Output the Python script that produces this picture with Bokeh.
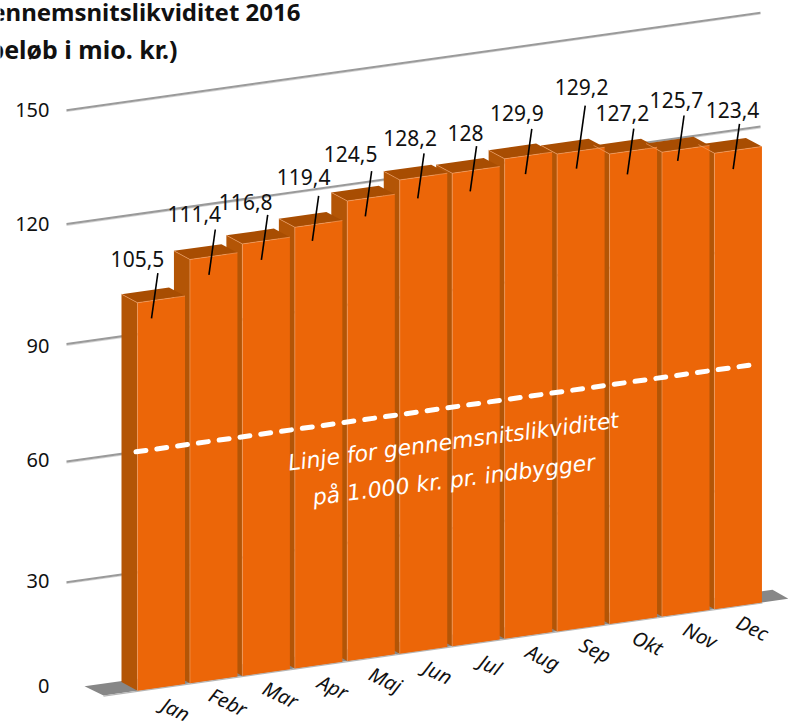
from bokeh.plotting import figure
from bokeh.embed import file_html
from bokeh.resources import INLINE
from bokeh.core.properties import value

# ---- data ----
months = ["Jan", "Febr", "Mar", "Apr", "Maj", "Jun", "Jul", "Aug", "Sep", "Okt", "Nov", "Dec"]
bar_heights = [105.0, 114.7, 116.9, 119.4, 124.5, 128.2, 128.0, 129.9, 129.2, 127.2, 125.7, 123.4]
bar_labels = ["105,5", "111,4", "116,8", "119,4", "124,5", "128,2", "128", "129,9", "129,2", "127,2", "125,7", "123,4"]
axis_values = [0, 30, 60, 90, 120, 150]
average_level = 64.7

# ---- layout ----
BAR_X0, BAR_PITCH, BAR_W = 137.0, 52.45, 47.5
BASE_Y, SLOPE, PX_PER_UNIT = 690.2, 0.1413, 3.695
DEPTH_X, DEPTH_Y = -16.0, -8.6
GRID_X0, GRID_X1 = 66.0, 760.0
grid_y_at_x0 = [688.0, 581.7, 461.0, 343.5, 223.5, 109.7]
label_y = [685.5, 580, 459.5, 345, 223, 109]
leader_dx = [14, 19, 19, 17.5, 18, 18, 18, 20.8, 19.3, 17.8, 15.7, 18.7]
leader_drop = [17.7, 18, 18.7, 16, 18, 21, 20.7, 18.3, 17.4, 22.9, 11, 18.6]
leader_rise = [45.4, 45.3, 45, 45, 45.4, 45, 45.4, 45.4, 63, 45.7, 45.4, 45.3]
label_dx = [-20.4, -21, -22, -15, -21, -14, -11, -15, -3.6, -11.4, -7.6, -7]
label_dy = [-14, -15.7, -12.6, -18.6, -17, -15, -12.6, -15.6, -18.3, -15.3, -15.3, -14]

ORANGE, SIDE, TOP, EDGE = "#ec6608", "#b35506", "#a84d02", "#f2a066"
FONT = "Noto Sans"


def base_y(x):
    return BASE_Y - (x - BAR_X0) * SLOPE


def level_y(x, v):
    return base_y(x) - v * PX_PER_UNIT


p = figure(width=788, height=722, x_range=(0, 788), y_range=(722, 0),
           output_backend="svg", toolbar_location=None, min_border=0,
           outline_line_color=None, background_fill_color="white",
           border_fill_color="white",
           styles={"position": "absolute", "left": "0px", "top": "0px"})
p.axis.visible = False
p.grid.visible = False

# grid lines (behind everything)
for v, y0 in zip(axis_values[1:], grid_y_at_x0[1:]):
    y1 = y0 - (GRID_X1 - GRID_X0) * 0.1405
    p.line([GRID_X0, GRID_X1], [y0 + 1.3, y1 + 1.3], line_color="#d4d4d4", line_width=1.2)
    p.line([GRID_X0, GRID_X1], [y0, y1], line_color="#9a9a9a", line_width=2)

# floor
fl_x = [84, 103, 788, 772]
fl_y = [685.7, base_y(103), base_y(788), 589.3]
p.patch(fl_x, fl_y, fill_color="#878787", line_color=None)
p.line([103, 762], [base_y(103) + 0.6, base_y(762) + 0.6], line_color="#b5b5b5", line_width=1.2)

# bars, painted right to left so a bar hides its right neighbour's side
xs, ys, cols = [], [], []
edge_xs, edge_ys = [], []
for i in range(len(months) - 1, -1, -1):
    h = bar_heights[i]
    x0 = BAR_X0 + i * BAR_PITCH
    x1 = x0 + BAR_W
    t0, t1 = level_y(x0, h), level_y(x1, h)
    b0, b1 = base_y(x0), base_y(x1)
    xs.append([x0 + DEPTH_X, x0, x0, x0 + DEPTH_X])
    ys.append([t0 + DEPTH_Y, t0, b0, b0 + DEPTH_Y])
    cols.append(SIDE)
    xs.append([x0, x1, x1 + DEPTH_X, x0 + DEPTH_X])
    ys.append([t0, t1, t1 + DEPTH_Y, t0 + DEPTH_Y])
    cols.append(TOP)
    xs.append([x0, x1, x1, x0])
    ys.append([t0, t1, b1, b0])
    cols.append(ORANGE)
    edge_xs.append([x0 + DEPTH_X, x0, x1])
    edge_ys.append([t0 + DEPTH_Y, t0, t1])
    edge_xs.append([x0, x0])
    edge_ys.append([t0, b0])
p.patches(xs, ys, fill_color=cols, line_color=None)
p.multi_line(edge_xs, edge_ys, line_color=EDGE, line_width=0.8, line_alpha=0.8)

# average line
ax0, ax1 = 135.5, 752.0
p.line([ax0, ax1], [level_y(ax0, average_level), level_y(ax1, average_level)],
       line_color="white", line_width=5, line_dash="10 11", line_cap="round")

# leaders and labels
lx0, ly0, lx1, ly1, tx, ty = [], [], [], [], [], []
for i, h in enumerate(bar_heights):
    x = BAR_X0 + i * BAR_PITCH + leader_dx[i]
    y = level_y(x, h) + leader_drop[i]
    xt = x + leader_rise[i] * 0.14
    yt = y - leader_rise[i]
    lx0.append(x); ly0.append(y); lx1.append(xt); ly1.append(yt)
    tx.append(xt + label_dx[i]); ty.append(yt + label_dy[i])
p.segment(lx0, ly0, lx1, ly1, line_color="black", line_width=1.6)
p.text(tx, ty, text=bar_labels, text_font=value(FONT), text_font_size="21px",
       text_align="center", text_baseline="middle", text_color="#111111")

# value axis labels
p.text([49] * len(axis_values), label_y, text=[str(v) for v in axis_values],
       text_font=value(FONT), text_font_size="20px", text_align="right",
       text_baseline="middle", text_color="#111111")

# month labels
mx = [BAR_X0 + i * BAR_PITCH + BAR_W / 2 + 14.5 for i in range(len(months))]
my = [base_y(x - 14.5) + 22 for x in mx]
p.text(mx, my, text=months, text_font=value(FONT), text_font_size="20px",
       text_font_style="italic", text_align="center", text_baseline="middle",
       angle=-0.45, text_color="#111111")

# note on the bars
NOTE_FONT = "DejaVu Sans"
p.text([453], [441], text=["Linje for gennemsnitslikviditet"], text_font=value(NOTE_FONT),
       text_font_size="22px", text_font_style="italic", text_color="white",
       text_align="center", text_baseline="middle", angle=0.13)
p.text([457], [479], text=["på  1.000 kr. pr. indbygger"], text_font=value(NOTE_FONT),
       text_font_size="22px", text_font_style="italic", text_color="white",
       text_align="center", text_baseline="middle", angle=0.125)

# title, cut by the page edge as in the reference
p.text([300], [11], text=["Gennemsnitslikviditet 2016"], text_font=value(FONT),
       text_font_size="24px", text_font_style="bold", text_align="right",
       text_baseline="alphabetic", text_color="#111111")
p.text([177], [48], text=["(beløb i mio. kr.)"], text_font=value(FONT),
       text_font_size="25px", text_font_style="bold", text_align="right",
       text_baseline="alphabetic", text_color="#111111")

open("out.html", "w").write(file_html(p, INLINE))
